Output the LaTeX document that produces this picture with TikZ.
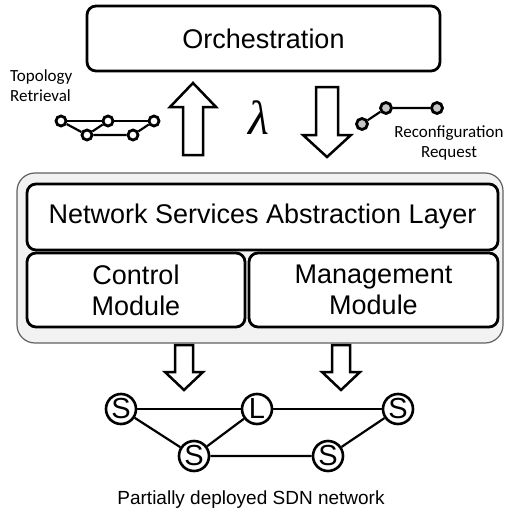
\documentclass[tikz,border=0pt]{standalone}
\usepackage{fontspec}
\setmainfont{Liberation Sans}
\newfontfamily\calibri{Carlito}
\newfontfamily\serifgreek{Liberation Serif}
\usetikzlibrary{positioning}

\begin{document}
\begin{tikzpicture}[
        x=1pt, y=-1pt,
        every node/.style={align=center},
        box/.style={draw, fill=white, line width=2.8pt, rounded corners=9pt, inner sep=0pt, font=\fontsize{27}{31}\selectfont},
        layerbox/.style={draw=gray!75!black, fill=gray!10, line width=1.2pt, rounded corners=18pt},
        switch/.style={circle, draw, fill=white, line width=2.6pt, minimum size=30pt, inner sep=0pt, font=\fontsize{29}{29}\selectfont},
        netdot/.style={circle, draw, fill=white, line width=2.8pt, minimum size=10pt, inner sep=0pt},
        graydot/.style={netdot, fill=gray!45, minimum size=11pt},
        link/.style={line width=2.2pt},
        blockarrow/.style={draw, line width=2.5pt, fill=white, line join=miter},
        smalltext/.style={font=\calibri\fontsize{17}{20}\selectfont, inner sep=0pt}
    ]
    \useasboundingbox (0,0) rectangle (504,514);

    % Nodes
    \node[box, minimum width=353pt, minimum height=65pt] (orch) at (263.5,38.5) {Orchestration};

    \node[layerbox, minimum width=486pt, minimum height=170pt] (layer) at (260,258) {};
    \node[box, minimum width=471pt, minimum height=66pt] (nsal) at (262.5,217) {Network Services Abstraction Layer};
    \node[box, minimum width=218pt, minimum height=74pt] (ctrl) at (136,290) {Control\\ Module};
    \node[box, minimum width=249pt, minimum height=74pt] (mgmt) at (373.5,290) {Management\\ Module};

    % Topology retrieval graph
    \node[smalltext, anchor=west, align=left] (topo) at (10,86) {Topology\\ Retrieval};
    \node[netdot] (t1) at (61,121) {};
    \node[netdot] (t2) at (108,121) {};
    \node[netdot] (t3) at (154,121) {};
    \node[netdot] (t4) at (87,135) {};
    \node[netdot] (t5) at (133,135) {};
    \draw[link] (t1) -- (t2) -- (t3);
    \draw[link] (t1) -- (t4) -- (t2);
    \draw[link] (t4) -- (t5) -- (t3);

    % Reconfiguration graph
    \node[graydot] (r1) at (362,124) {};
    \node[graydot] (r2) at (386,108) {};
    \node[graydot] (r3) at (437,108) {};
    \draw[link] (r1) -- (r2) -- (r3);
    \node[smalltext] (reconf) at (449,143) {Reconfiguration\\ Request};

    \node (lambda) at (259,118) {\serifgreek\itshape\fontsize{48}{48}\selectfont λ};

    % Arrows
    \draw[blockarrow] (183,155) -- (183,107) -- (170,107) -- (193,83) -- (216,107) -- (203,107) -- (203,155) -- cycle;
    \draw[blockarrow] (316,87) -- (316,135) -- (303,135) -- (327,157) -- (351,135) -- (338,135) -- (338,87) -- cycle;
    \draw[blockarrow] (175,345) -- (175,372) -- (165,372) -- (184,390) -- (203,372) -- (193,372) -- (193,345) -- cycle;
    \draw[blockarrow] (332,345) -- (332,372) -- (322,372) -- (341,390) -- (360,372) -- (350,372) -- (350,345) -- cycle;

    % SDN network
    \node[switch] (s1) at (121,409) {S};
    \node[switch] (l1) at (257,409) {L};
    \node[switch] (s3) at (398,409) {S};
    \node[switch] (s2) at (194,456) {S};
    \node[switch] (s4) at (328,456) {S};
    \draw[link] (s1) -- (l1) -- (s3);
    \draw[link] (s1) -- (s2) -- (l1);
    \draw[link] (s2) -- (s4) -- (s3);

    \node[font=\fontsize{19}{22}\selectfont] (caption) at (251,500) {Partially deployed SDN network};

\end{tikzpicture}
\end{document}
